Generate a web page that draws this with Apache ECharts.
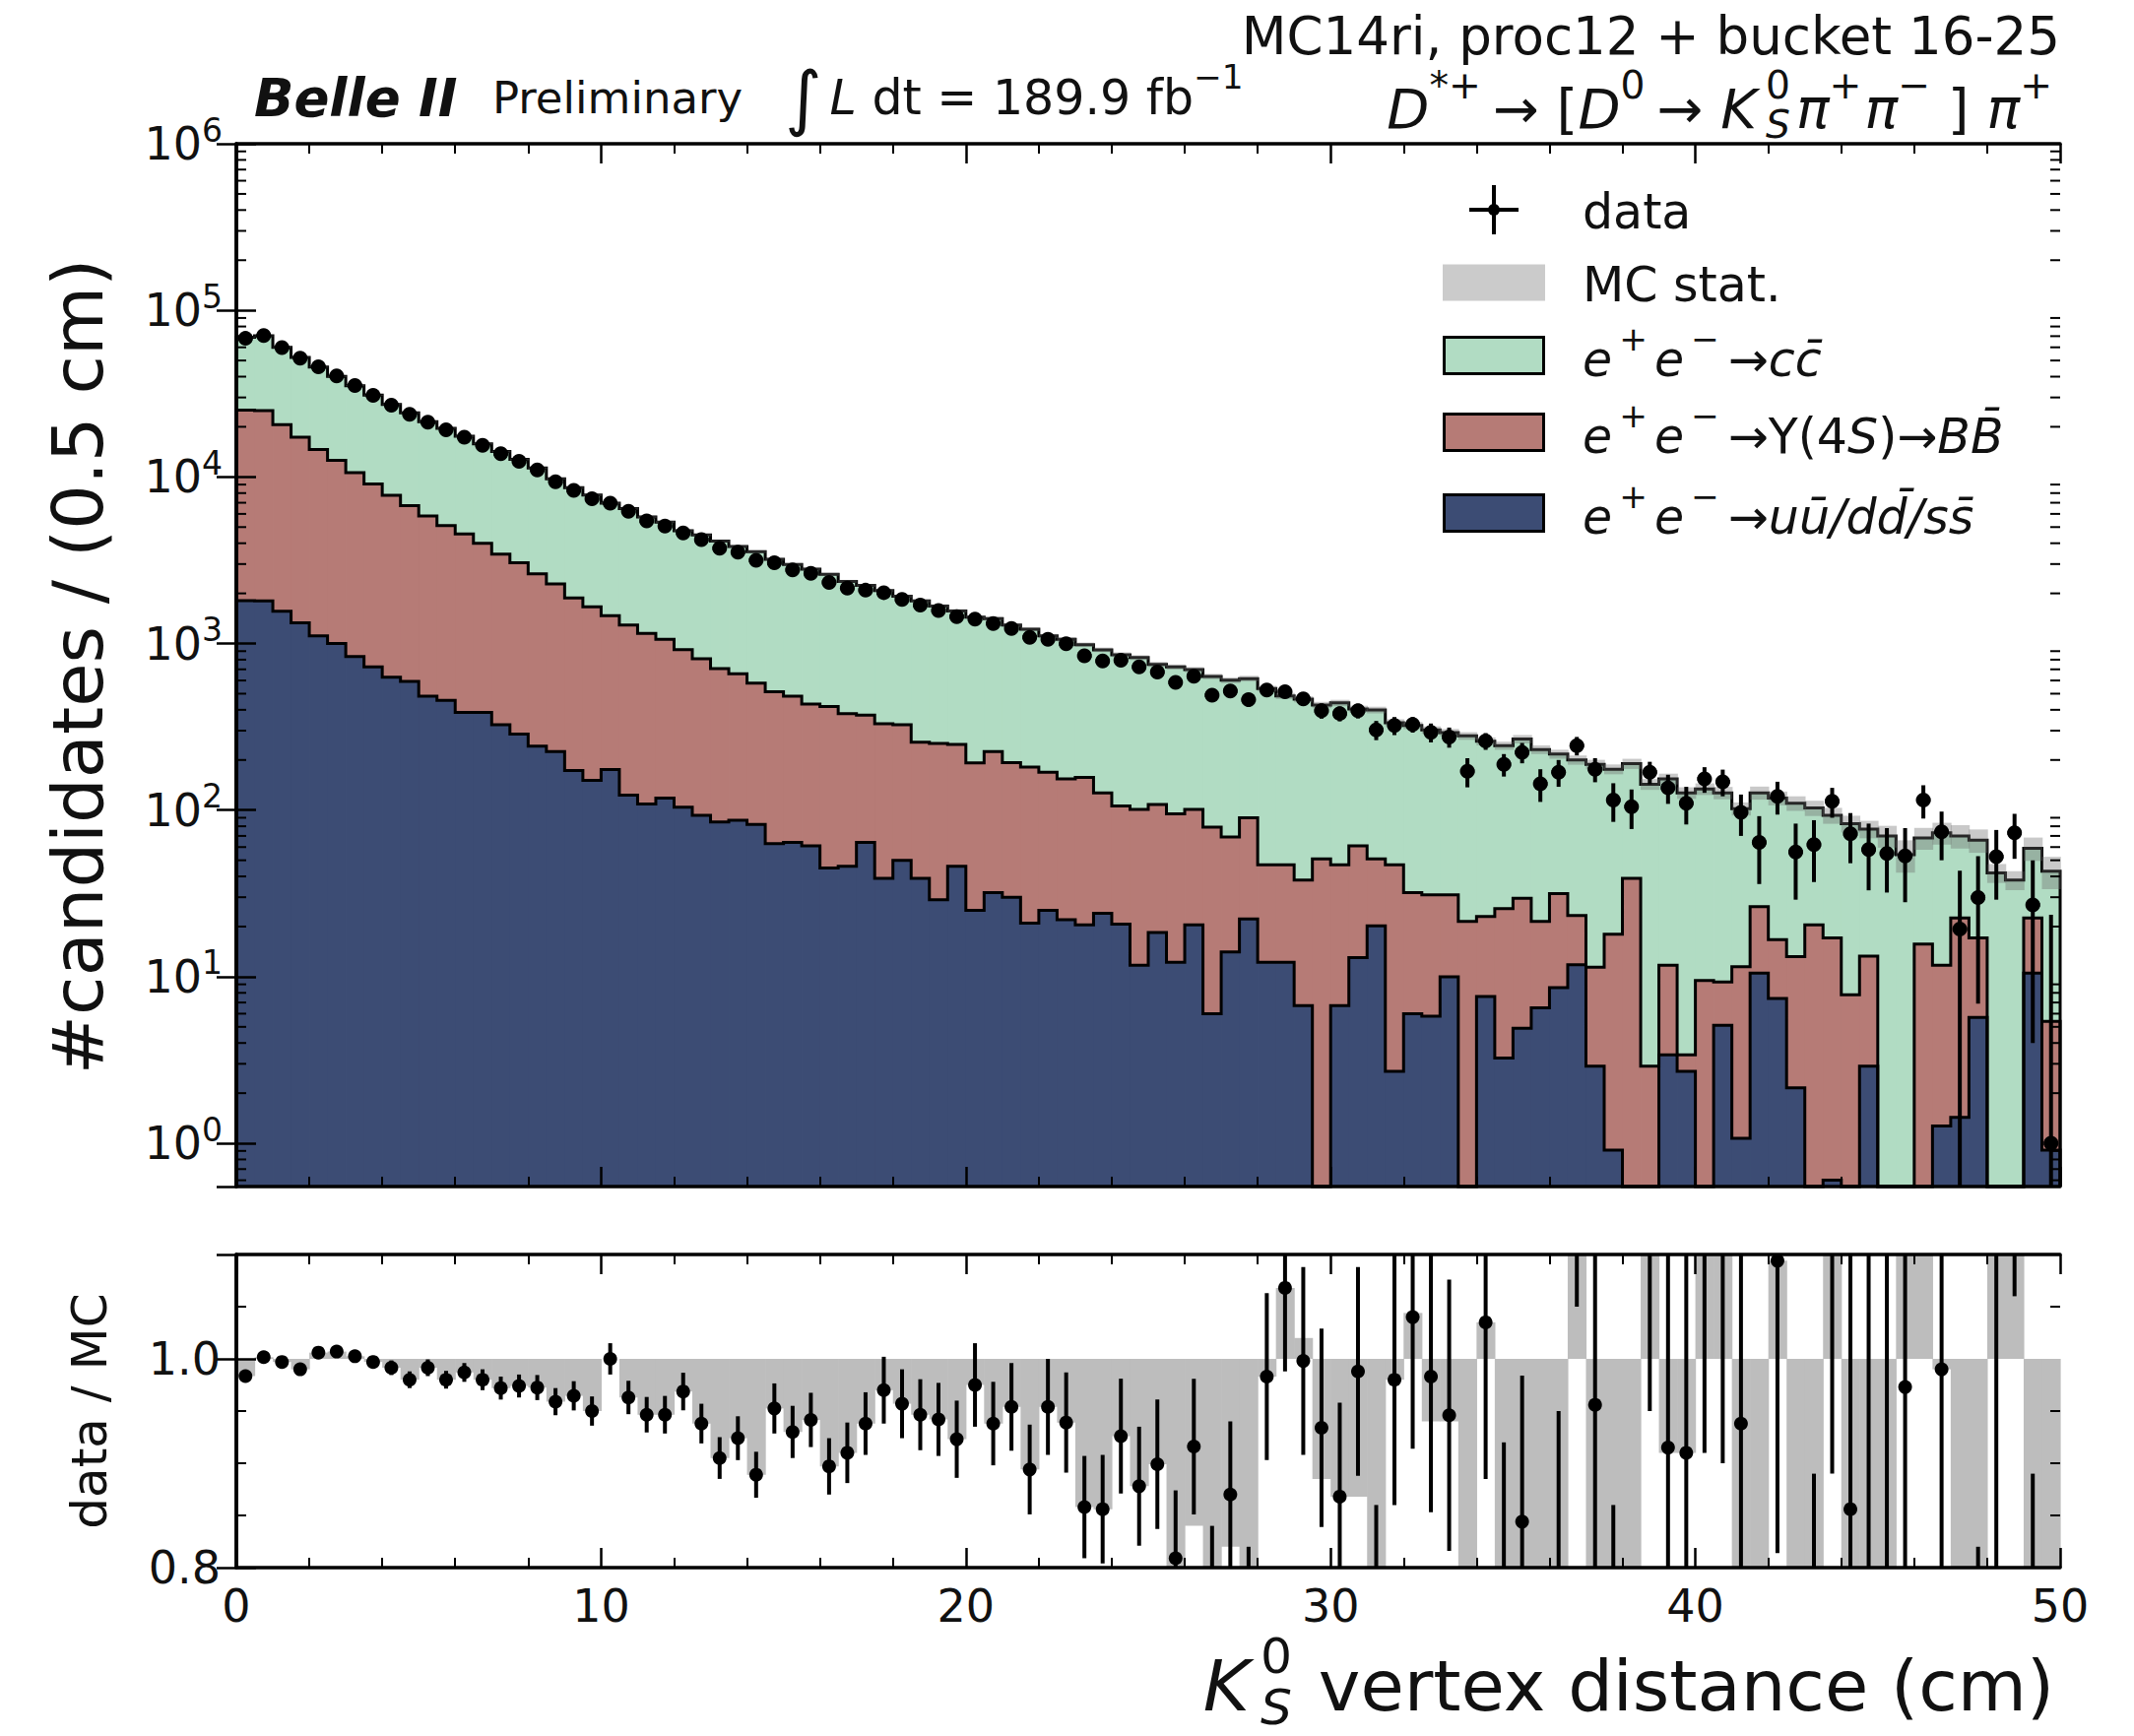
<!DOCTYPE html>
<html><head><meta charset="utf-8">
<script src="https://cdn.jsdelivr.net/npm/echarts@6/dist/echarts.min.js"></script>
<style>html,body{margin:0;padding:0;background:#fff}#c{width:2167px;height:1763px}</style>
</head><body><div id="c"></div>
<script>
// ---------------- data ----------------
const N_BINS = 100;
const BIN_WIDTH = 0.5;            // cm
const X_RANGE = [0, 50];
const xTickLabels = ['0', '10', '20', '30', '40', '50'];
const yTickExponents = ['0', '1', '2', '3', '4', '5', '6'];   // labels 10^n
const ratioTickLabels = {'0.8': '0.8', '1.0': '1.0'};

// e+e- -> uu/dd/ss
const udsCounts = [1810,1800,1560,1330,1110,1000,836,725,628,593,
 483,456,386,386,325,286,242,225,173,151,
 175,123,109,118,104,93,85,87,82,63,
 64,61,45,46,64,39,50,39,29,46,
 25,32,30,21,25,22,20.5,24,20.7,11.7,
 18.4,12.2,20.5,6.0,14.1,22.2,12.2,12.2,6.7,0,
 6.7,13.0,20.2,2.7,6.0,5.8,10,0,7.6,3.25,
 4.9,6.5,8.6,11.8,2.9,0.91,0,0,3.4,2.7,
 0,5.1,1.07,10.5,7.4,2.15,0,0.6,0,2.9,
 0,0,0,1.27,1.43,5.7,0,0,10.5,0.91];
// e+e- -> Y(4S) -> BB
const bbCounts = [23390,23200,19040,15970,13490,11600,9764,8335,7122,6137,
 5357,4654,4164,3614,3115,2764,2378,2055,1707,1509,
 1295,1167,1041,942,816,717,623,572,497,451,
 419,372,374,334,308,291,275,217,222,202,
 167,193,163,160,144,132,136.5,103,85.3,89.3,
 89.6,82.8,80.5,73,54.9,67.8,34.8,34.8,31.3,51,
 40.3,48,30.8,44.3,26,25.2,21,21.5,15.4,22.35,
 24.7,15,22.9,11.5,8.5,17.1,39,2.9,8.3,0.7,
 9.5,4.2,10.43,15.8,9.3,11.05,20.5,16.5,7.8,10.4,
 0,0,15.7,10.43,21.07,11.4,0,0,12,4.49];
// e+e- -> cc
const ccCounts = [43840,45390,39380,34920,31030,27520,24710,21930,19480,17560,
 15640,14480,12980,11820,10760,9680,8690,7480,6735,6120,
 5480,5160,4600,4300,3840,3670,3412,3161,2976,2686,
 2497,2367,2181,1980,1858,1750,1595,1544,1429,1322,
 1248,1185,1097,1039,941,906,827,790,751,722,
 642,628,596,555,533,526,489,438,425,377,
 393,344,348,288,290,272,261,257.5,236,218.4,
 237.4,209.5,185.5,176.7,176.6,158,151,140.1,142.3,123.6,
 124.5,117.7,90.5,100.7,101.3,96.8,82.5,75.9,75.2,63.7,
 70,54,52.3,61.3,47.5,48.9,42,38,36.5,37.6];
// relative MC statistical uncertainty of the stack
const mcStatRel = [0.008,0.008,0.008,0.008,0.008,0.009,0.009,0.009,0.009,0.010,
 0.010,0.010,0.011,0.011,0.011,0.012,0.012,0.012,0.013,0.013,
 0.014,0.014,0.015,0.015,0.016,0.016,0.017,0.017,0.018,0.018,
 0.019,0.020,0.020,0.021,0.021,0.022,0.023,0.023,0.024,0.025,
 0.026,0.026,0.027,0.028,0.029,0.030,0.030,0.031,0.032,0.033,
 0.034,0.035,0.036,0.037,0.038,0.039,0.040,0.041,0.042,0.043,
 0.044,0.045,0.046,0.048,0.049,0.050,0.052,0.053,0.055,0.056,
 0.058,0.060,0.062,0.064,0.066,0.068,0.070,0.075,0.075,0.080,
 0.080,0.085,0.090,0.090,0.095,0.100,0.105,0.110,0.115,0.120,
 0.150,0.220,0.150,0.150,0.160,0.160,0.130,0.130,0.160,0.220];
// data
const dataCounts = [67900,70500,59800,51700,45900,40400,35400,30900,27000,23800,
 21300,19200,17300,15500,13800,12400,11000,9360,8310,7390,
 6950,6210,5440,5070,4610,4200,3730,3530,3160,3050,
 2770,2640,2330,2150,2090,2020,1840,1700,1580,1450,
 1400,1320,1230,1090,1060,996,844,785,794,723,
 675,585,637,490,519,460,526,514,465,395,
 380,395,303,322,327,293,275,171,260,188,
 222,144,169,244,176,115,105,169,136,110,
 154,148,97,64,121,56,62,113,72,58,
 55,53,115,74,19.3,29.9,52.5,73,27,1.0];
const dataErr = [280,280,240,235,230,200,195,185,190,195,
 172,166,158,158,156,140,136,127,121,109,
 104,103,98,96,86,85,82,80,78,77,
 75,73,70,68,67,67,63,61,59,58,
 58,56,54,52,51,51,48,48,47,47,
 46,47,45,44,42,43,43,39,41,41,
 39,40,40,40,35,38,38,34,30,29,
 31,32,31,31,29,30,28,26,27,28,
 27,27,27,28,27,27,25,23,24,25,
 23,25,26,24,24,23,23.5,22,23,22.5];
// ratio panel
const ratioVals = [0.9835,1.0016,0.997,0.990,1.006,1.007,1.0025,0.997,0.9915,0.980,
 0.9915,0.980,0.987,0.980,0.972,0.974,0.9725,0.959,0.9646,0.950,
 1.000,0.963,0.9465,0.9465,0.9687,0.938,0.905,0.924,0.889,0.9525,
 0.930,0.9415,0.897,0.910,0.938,0.970,0.957,0.9465,0.942,0.923,
 0.975,0.938,0.954,0.894,0.954,0.939,0.858,0.856,0.926,0.878,
 0.899,0.809,0.916,0.77,0.870,0.75,0.983,1.068,0.998,0.934,
 0.868,0.988,0.76,0.980,1.040,0.983,0.946,0.61,1.035,0.77,
 0.844,0.62,0.78,1.22,0.956,0.66,0.55,1.18,0.915,0.910,
 1.15,1.17,0.938,0.50,1.094,0.51,0.60,1.21,0.856,0.75,
 0.79,0.973,1.69,0.990,0.28,0.45,1.25,1.92,0.46,0.02];
const ratioErr = [0.004,0.004,0.004,0.0045,0.005,0.005,0.0055,0.006,0.007,0.008,
 0.008,0.0085,0.009,0.010,0.011,0.011,0.012,0.013,0.014,0.014,
 0.015,0.016,0.017,0.018,0.018,0.019,0.020,0.021,0.022,0.024,
 0.025,0.026,0.027,0.029,0.030,0.032,0.033,0.034,0.035,0.037,
 0.040,0.040,0.042,0.043,0.046,0.048,0.049,0.052,0.055,0.057,
 0.062,0.065,0.065,0.07,0.07,0.07,0.08,0.08,0.09,0.095,
 0.09,0.10,0.10,0.12,0.126,0.13,0.13,0.13,0.15,0.15,
 0.14,0.15,0.17,0.17,0.2,0.2,0.2,0.23,0.35,0.35,
 0.24,0.27,0.35,0.25,0.28,0.27,0.29,0.32,0.35,0.4,
 0.4,0.45,0.45,0.35,0.35,0.37,0.6,0.86,0.43,0.55];
// grey band of the ratio panel (its far end, measured from 1)
const ratioBand = [0.9835,1.0016,0.997,0.990,1.006,1.007,1.0025,0.997,0.9915,0.980,
 0.9915,0.980,0.987,0.980,0.972,0.974,0.9725,0.959,0.9646,0.950,
 1.000,0.963,0.9465,0.9465,0.9687,0.938,0.905,0.924,0.889,0.9525,
 0.930,0.9415,0.897,0.910,0.938,0.970,0.957,0.9465,0.942,0.923,
 0.975,0.938,0.954,0.894,0.954,0.939,0.858,0.856,0.926,0.878,
 0.899,0.79,0.84,0.77,0.82,0.75,0.983,1.068,1.02,0.885,
 0.868,0.868,0.76,0.98,1.044,0.94,0.94,0.6,1.035,0.7,
 0.7,0.7,0.7,1.3,0.5,0.5,0.5,1.3,0.91,0.91,
 1.3,1.3,0.7,0.5,1.094,0.5,0.5,1.3,0.7,0.7,
 0.7,1.3,1.3,0.99,0.5,0.5,1.3,1.3,0.5,0.5];

// ---------------- derived ----------------
const binEdges = [];
for (let i = 0; i <= N_BINS; i++) binEdges.push(X_RANGE[0] + i * BIN_WIDTH);
const cumU = udsCounts.slice();
const cumB = udsCounts.map((v, i) => v + bbCounts[i]);
const cumT = cumB.map((v, i) => v + ccCounts[i]);

const Y_MIN = 0.55, Y_MAX = 1e6, R_MIN = 0.8, R_MAX = 1.1;
const clampL = v => Math.min(Y_MAX, Math.max(Y_MIN, v));
const clampR = v => Math.min(R_MAX, Math.max(R_MIN, v));

const COL_UDS = '#3c4c74', COL_BB = '#b67b76', COL_CC = '#b1dcc3';
const MC_BAND = 'rgba(105,105,105,0.36)';
const RATIO_GREY = '#bdbdbd';
const FF = '"DejaVu Sans", sans-serif';
const TXT = '#111';

// ---------------- text helper (layout of math-like labels) ----------------
const mctx = document.createElement('canvas').getContext('2d');
function tw(t, s, it, b) { mctx.font = (it ? 'italic ' : '') + (b ? 'bold ' : '') + s + 'px ' + FF; return mctx.measureText(t).width; }
const P = (t, s, it, b) => ({t, s, it, b});
const G = g => ({gap: g});
const SUP = (t, s, it) => ({t, s: s * 0.7, it, dy: -0.42 * s});
// stacked superscript (upright) over subscript (italic), drawn as one two-line text
const STK = (top, bot, s) => ({stk: [top, bot], s});
function mathText(pieces, x, y, align) {
  let cur = 0; const placed = [];
  for (const p of pieces) {
    if (p.gap) { cur += p.gap; continue; }
    let w;
    if (p.stk) w = Math.max(tw(p.stk[0], p.s * 0.7, 0, 0), tw(p.stk[1], p.s * 0.7, 1, 0));
    else w = tw(p.t, p.s, p.it, p.b);
    placed.push({p, px: cur});
    cur += w;
  }
  const x0 = align === 'right' ? x - cur : (align === 'center' ? x - cur / 2 : x);
  return placed.map(({p, px}) => {
    if (p.stk) {
      const fs = p.s * 0.7, lh = 0.72 * p.s;
      return {type: 'text', x: x0 + px, y: y - 0.06 * p.s, z: 50, silent: true,
        style: {text: '{a|' + p.stk[0] + '}\n{b|' + p.stk[1] + '}', align: 'left', verticalAlign: 'middle',
          rich: {a: {fontSize: fs, fontFamily: FF, fill: TXT, lineHeight: lh},
                 b: {fontSize: fs, fontFamily: FF, fontStyle: 'italic', fill: TXT, lineHeight: lh}}}};
    }
    return {type: 'text', x: x0 + px, y: y + (p.dy || 0), z: 50, silent: true,
      style: {text: p.t, fontSize: p.s, fontFamily: FF, fontStyle: p.it ? 'italic' : 'normal',
        fontWeight: p.b ? 'bold' : 'normal', fill: TXT, align: 'left', verticalAlign: 'middle'}};
  });
}

// ---------------- graphic: titles, legend, axis names ----------------
const graphics = [];
graphics.push(...mathText([P('MC14ri, proc12 + bucket 16-25', 53)], 2092, 36, 'right'));
const S2 = 56;
graphics.push(...mathText([P('D', S2, 1), SUP('*+', S2), G(12), P('\u2192 [', S2), P('D', S2, 1), SUP('0', S2), G(12),
  P('\u2192 ', S2), P('K', S2, 1), G(9), STK('0', 'S', S2), G(6), P('\u03c0', S2, 1), SUP('+', S2), G(3),
  P('\u03c0', S2, 1), SUP('\u2212', S2), P(' ] ', S2), P('\u03c0', S2, 1), SUP('+', S2)], 2084, 110, 'right'));
graphics.push(...mathText([P('Belle II', 53, 1, 1)], 258, 99, 'left'));
graphics.push(...mathText([P('Preliminary', 45)], 500, 99, 'left'));
graphics.push(...mathText([P('\u222b', 72), G(8), P('L', 49, 1), P(' dt = 189.9 fb', 49), SUP('\u22121', 49)], 797, 99, 'left'));

// legend
const LX0 = 1465, LW = 104, LH = 37, LTX = 1607, LS = 49;
const rows = [213, 287, 361, 439, 521];
graphics.push({type: 'line', z: 50, shape: {x1: LX0 + 27, y1: rows[0], x2: LX0 + 77, y2: rows[0]}, style: {stroke: '#000', lineWidth: 4}});
graphics.push({type: 'line', z: 50, shape: {x1: LX0 + 52, y1: rows[0] - 25, x2: LX0 + 52, y2: rows[0] + 25}, style: {stroke: '#000', lineWidth: 4}});
graphics.push({type: 'circle', z: 50, shape: {cx: LX0 + 52, cy: rows[0], r: 6}, style: {fill: '#000'}});
graphics.push({type: 'rect', z: 50, shape: {x: LX0, y: rows[1] - LH / 2, width: LW, height: LH}, style: {fill: '#cbcbcb'}});
[[2, COL_CC], [3, COL_BB], [4, COL_UDS]].forEach(([r, c]) => {
  graphics.push({type: 'rect', z: 50, shape: {x: LX0 + 1.5, y: rows[r] - LH / 2, width: LW - 3, height: LH}, style: {fill: c, stroke: '#000', lineWidth: 3}});
});
graphics.push(...mathText([P('data', LS)], LTX, rows[0] + 2, 'left'));
graphics.push(...mathText([P('MC stat.', LS)], LTX, rows[1] + 2, 'left'));
const EE = [P('e', LS, 1), G(7), SUP('+', LS), G(7), P('e', LS, 1), G(7), SUP('\u2212', LS), G(9), P('\u2192', LS)];
graphics.push(...mathText([...EE, P('cc\u0304', LS, 1)], LTX, rows[2] + 4, 'left'));
graphics.push(...mathText([...EE, P('\u03a5(4', LS), P('S', LS, 1), P(')\u2192', LS), P('BB\u0304', LS, 1)], LTX, rows[3] + 4, 'left'));
graphics.push(...mathText([...EE, P('uu\u0304/dd\u0304/ss\u0304', LS, 1)], LTX, rows[4] + 4, 'left'));

// axis names
graphics.push({type: 'text', x: 79, y: 677, rotation: Math.PI / 2, z: 50,
  style: {text: '#candidates / (0.5 cm)', fontSize: 72, fontFamily: FF, fill: TXT, align: 'center', verticalAlign: 'middle'}});
graphics.push({type: 'text', x: 91, y: 1433, rotation: Math.PI / 2, z: 50,
  style: {text: 'data / MC', fontSize: 50, fontFamily: FF, fill: TXT, align: 'center', verticalAlign: 'middle'}});
graphics.push(...mathText([P('K', 72, 1), G(11), STK('0', 'S', 72), G(4), P(' vertex distance (cm)', 72)], 2086, 1712, 'right'));

// ---------------- axes ----------------
const AX_LINE = {show: true, lineStyle: {color: '#000', width: 3.5}};
function xAx(grid, pos, labels) {
  return {type: 'value', gridIndex: grid, position: pos, min: X_RANGE[0], max: X_RANGE[1], interval: 10, z: 10,
    axisLine: AX_LINE, splitLine: {show: false},
    axisTick: {show: true, inside: true, length: 20, lineStyle: {color: '#000', width: 2.5}},
    minorTick: {show: true, splitNumber: 5, length: 10, lineStyle: {color: '#000', width: 2}},
    axisLabel: {show: labels, fontSize: 46, fontFamily: FF, color: TXT, margin: 16,
      formatter: v => xTickLabels[Math.round(v / 10)] || ''}};
}
function yLog(pos, labels) {
  return {type: 'log', logBase: 10, gridIndex: 0, position: pos, min: Y_MIN, max: Y_MAX, z: 10,
    axisLine: AX_LINE, splitLine: {show: false},
    axisTick: {show: true, inside: true, length: 20, lineStyle: {color: '#000', width: 2.5}},
    minorTick: {show: false},
    axisLabel: {show: labels, fontFamily: FF, color: TXT, margin: 14, showMinLabel: false,
      rich: {b: {fontSize: 46, fontFamily: FF, color: TXT}, s: {fontSize: 33, fontFamily: FF, color: TXT, padding: [0, 0, 28, 0]}},
      formatter: v => { const n = Math.round(Math.log10(v));
        return (Math.abs(v / Math.pow(10, n) - 1) < 1e-6 && yTickExponents[n] !== undefined) ? '{b|10}{s|' + yTickExponents[n] + '}' : ''; }}};
}
function yRat(pos, labels) {
  return {type: 'value', gridIndex: 1, position: pos, min: R_MIN, max: R_MAX, interval: 0.2, z: 10,
    axisLine: AX_LINE, splitLine: {show: false},
    axisTick: {show: true, inside: true, length: 20, lineStyle: {color: '#000', width: 2.5}},
    axisLabel: {show: labels, fontSize: 46, fontFamily: FF, color: TXT, margin: 16, showMaxLabel: false,
      formatter: v => ratioTickLabels[v.toFixed(1)] || ''}};
}

// ---------------- series ----------------
const binData = binEdges.slice(0, N_BINS).map((e, i) => [e + BIN_WIDTH / 2, cumT[i]]);
const ratioData = binEdges.slice(0, N_BINS).map((e, i) => [e + BIN_WIDTH / 2, ratioVals[i]]);

function rectL(api, x0, x1, lo, hi, fill) {
  const p0 = api.coord([x0, hi]), p1 = api.coord([x1, lo]);
  return {type: 'rect', shape: {x: p0[0], y: p0[1], width: p1[0] - p0[0] + 0.8, height: p1[1] - p0[1]}, style: {fill}};
}

const series = [];
series.push({type: 'custom', name: 'stack', xAxisIndex: 0, yAxisIndex: 0, z: 2, silent: true, data: binData,
  renderItem: (params, api) => {
    const i = params.dataIndex, x0 = binEdges[i], x1 = binEdges[i + 1];
    const ch = [];
    [[0, cumU[i], COL_UDS], [cumU[i], cumB[i], COL_BB], [cumB[i], cumT[i], COL_CC]].forEach(([lo, hi, c]) => {
      const l = clampL(lo), h = clampL(hi);
      if (h > l) ch.push(rectL(api, x0, x1, l, h, c));
    });
    return {type: 'group', children: ch};
  }});
series.push({type: 'custom', name: 'outline', xAxisIndex: 0, yAxisIndex: 0, z: 3, silent: true, data: [[25, 1]],
  renderItem: (params, api) => {
    const mk = cum => {
      const pts = [api.coord([binEdges[0], Y_MIN])];
      for (let i = 0; i < N_BINS; i++) {
        pts.push(api.coord([binEdges[i], clampL(cum[i])]));
        pts.push(api.coord([binEdges[i + 1], clampL(cum[i])]));
      }
      pts.push(api.coord([binEdges[N_BINS], Y_MIN]));
      return {type: 'polyline', shape: {points: pts}, style: {stroke: '#000', fill: null, lineWidth: 3, lineJoin: 'miter'}};
    };
    return {type: 'group', children: [mk(cumU), mk(cumB), mk(cumT)]};
  }});
series.push({type: 'custom', name: 'MC stat.', xAxisIndex: 0, yAxisIndex: 0, z: 4, silent: true, data: binData,
  renderItem: (params, api) => {
    const i = params.dataIndex;
    return rectL(api, binEdges[i], binEdges[i + 1], clampL(cumT[i] * (1 - mcStatRel[i])), clampL(cumT[i] * (1 + mcStatRel[i])), MC_BAND);
  }});
series.push({type: 'custom', name: 'data', xAxisIndex: 0, yAxisIndex: 0, z: 6, silent: true,
  data: binEdges.slice(0, N_BINS).map((e, i) => [e + BIN_WIDTH / 2, dataCounts[i]]),
  renderItem: (params, api) => {
    const i = params.dataIndex, xc = binEdges[i] + BIN_WIDTH / 2;
    const d = dataCounts[i];
    const c = api.coord([xc, clampL(d)]);
    const lo = api.coord([xc, clampL(d - dataErr[i])]), hi = api.coord([xc, clampL(d + dataErr[i])]);
    const l = api.coord([binEdges[i], clampL(d)]), r = api.coord([binEdges[i + 1], clampL(d)]);
    return {type: 'group', children: [
      {type: 'line', shape: {x1: lo[0], y1: lo[1], x2: hi[0], y2: hi[1]}, style: {stroke: '#000', lineWidth: 4}},
      {type: 'line', shape: {x1: l[0] + 2, y1: l[1], x2: r[0] - 2, y2: r[1]}, style: {stroke: '#000', lineWidth: 4}},
      {type: 'circle', shape: {cx: c[0], cy: c[1], r: 7.5}, style: {fill: '#000'}}
    ]};
  }});
series.push({type: 'custom', name: 'minorTicksMain', xAxisIndex: 0, yAxisIndex: 0, z: 11, silent: true, data: [[25, 1]],
  renderItem: (params, api) => {
    const ch = [];
    for (let n = -1; n <= 5; n++) for (let m = 2; m <= 9; m++) {
      const v = m * Math.pow(10, n);
      if (v < Y_MIN || v > Y_MAX) continue;
      const a = api.coord([X_RANGE[0], v]), b = api.coord([X_RANGE[1], v]);
      ch.push({type: 'line', shape: {x1: a[0], y1: a[1], x2: a[0] + 10, y2: a[1]}, style: {stroke: '#000', lineWidth: 2}});
      ch.push({type: 'line', shape: {x1: b[0], y1: b[1], x2: b[0] - 10, y2: b[1]}, style: {stroke: '#000', lineWidth: 2}});
    }
    return {type: 'group', children: ch};
  }});
series.push({type: 'custom', name: 'ratioBand', xAxisIndex: 2, yAxisIndex: 2, z: 2, silent: true, data: ratioData,
  renderItem: (params, api) => {
    const i = params.dataIndex;
    const a = clampR(Math.min(1, ratioBand[i])), b = clampR(Math.max(1, ratioBand[i]));
    if (b - a <= 0) return null;
    const p0 = api.coord([binEdges[i], b]), p1 = api.coord([binEdges[i + 1], a]);
    return {type: 'rect', shape: {x: p0[0], y: p0[1], width: p1[0] - p0[0] + 0.6, height: p1[1] - p0[1]}, style: {fill: RATIO_GREY}};
  }});
series.push({type: 'custom', name: 'ratio', xAxisIndex: 2, yAxisIndex: 2, z: 6, silent: true, data: ratioData,
  renderItem: (params, api) => {
    const i = params.dataIndex, xc = binEdges[i] + BIN_WIDTH / 2, r = ratioVals[i], e = ratioErr[i];
    const ch = [];
    const lo = Math.max(R_MIN, r - e), hi = Math.min(R_MAX, r + e);
    if (hi > lo) {
      const p = api.coord([xc, lo]), q = api.coord([xc, hi]);
      ch.push({type: 'line', shape: {x1: p[0], y1: p[1], x2: q[0], y2: q[1]}, style: {stroke: '#000', lineWidth: 4}});
    }
    if (r >= R_MIN && r <= R_MAX) {
      const c = api.coord([xc, r]);
      ch.push({type: 'circle', shape: {cx: c[0], cy: c[1], r: 7}, style: {fill: '#000'}});
    }
    return {type: 'group', children: ch};
  }});
series.push({type: 'custom', name: 'minorTicksRatio', xAxisIndex: 2, yAxisIndex: 2, z: 11, silent: true, data: [[25, 1]],
  renderItem: (params, api) => {
    const ch = [];
    [0.85, 0.9, 0.95, 1.05].forEach(v => {
      const a = api.coord([X_RANGE[0], v]), b = api.coord([X_RANGE[1], v]);
      ch.push({type: 'line', shape: {x1: a[0], y1: a[1], x2: a[0] + 10, y2: a[1]}, style: {stroke: '#000', lineWidth: 2}});
      ch.push({type: 'line', shape: {x1: b[0], y1: b[1], x2: b[0] - 10, y2: b[1]}, style: {stroke: '#000', lineWidth: 2}});
    });
    return {type: 'group', children: ch};
  }});

const option = {
  animation: false,
  backgroundColor: '#fff',
  grid: [
    {left: 240, top: 146, width: 1852, height: 1059, containLabel: false},
    {left: 240, top: 1274, width: 1852, height: 318, containLabel: false}
  ],
  xAxis: [xAx(0, 'bottom', false), xAx(0, 'top', false), xAx(1, 'bottom', true), xAx(1, 'top', false)],
  yAxis: [yLog('left', true), yLog('right', false), yRat('left', true), yRat('right', false)],
  series: series,
  graphic: {elements: graphics}
};

const chart = echarts.init(document.getElementById('c'), null, {renderer: 'svg', width: 2167, height: 1763});
chart.setOption(option);
</script>
</body></html>
